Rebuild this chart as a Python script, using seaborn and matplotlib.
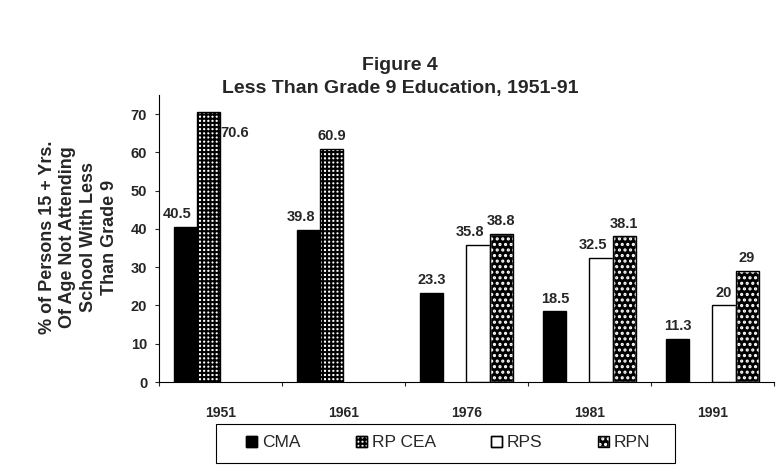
import numpy as np
import pandas as pd
import matplotlib
matplotlib.use("Agg")
import matplotlib.pyplot as plt
import seaborn as sns
from matplotlib.patches import Patch, Rectangle

years = ['1951', '1961', '1976', '1981', '1991']
cma = [40.5, 39.8, 23.3, 18.5, 11.3]
rp_cea = [70.6, 60.9, np.nan, np.nan, np.nan]
rps = [np.nan, np.nan, 35.8, 32.5, 20]
rpn = [np.nan, np.nan, 38.8, 38.1, 29]
series = ['CMA', 'RP CEA', 'RPS', 'RPN']

df = pd.DataFrame({'Year': years, 'CMA': cma, 'RP CEA': rp_cea, 'RPS': rps, 'RPN': rpn})
long = df.melt(id_vars='Year', var_name='Series', value_name='Value').dropna()

sns.set_style("white")
plt.rcParams['font.family'] = ['Liberation Sans', 'DejaVu Sans']
plt.rcParams['hatch.linewidth'] = 1.5

fig = plt.figure(figsize=(7.84, 4.69), dpi=100)
ax = fig.add_axes([0.2028, 0.1855, 0.7844, 0.612])

sns.barplot(data=long, x='Year', y='Value', hue='Series', order=years,
            hue_order=series, width=0.75, ax=ax, edgecolor='black',
            linewidth=1, saturation=1, legend=False)

# fill / hatch / hatch colour per series
styles = {
    'CMA': dict(facecolor='black', hatch=None, edgecolor='black'),
    'RP CEA': dict(facecolor='white', hatch='++++', edgecolor='black'),
    'RPS': dict(facecolor='white', hatch=None, edgecolor='black'),
    'RPN': dict(facecolor='black', hatch='...', edgecolor='white'),
}
for name, cont in zip(series, ax.containers):
    for bar in cont:
        bar.set_facecolor(styles[name]['facecolor'])
        bar.set_hatch(styles[name]['hatch'])
        bar.set_edgecolor(styles[name]['edgecolor'])
        if styles[name]['edgecolor'] != 'black':
            # white dots need a black outline drawn on top
            ax.add_patch(Rectangle(bar.get_xy(), bar.get_width(), bar.get_height(),
                                   fill=False, edgecolor='black', linewidth=1))

ymax = 75
ax.set_ylim(0, ymax)
ax.set_xlim(-0.5, 4.5)

# value labels
all_bars = [(name, bar) for name, cont in zip(series, ax.containers) for bar in cont]
for name, bar in all_bars:
    h = bar.get_height()
    if np.isnan(h) or h == 0:
        continue
    txt = f"{h:g}"
    cx = bar.get_x() + bar.get_width() / 2
    if h > ymax - 6:
        # no room above: put beside the bar
        ax.annotate(txt, (bar.get_x() + bar.get_width(), h), xytext=(0, -15),
                    textcoords='offset points', ha='left', va='center',
                    fontsize=10.5, fontweight='bold')
        continue
    # shift left when the neighbouring bar on the right is taller
    right_x = bar.get_x() + bar.get_width()
    taller = any(abs(b.get_x() - right_x) < 0.01 and b.get_height() > h
                 for _, b in all_bars)
    dx = -6 if (taller and len(txt) > 2) else 0
    ax.annotate(txt, (cx, h), xytext=(dx, 4), textcoords='offset points',
                ha='center', va='bottom', fontsize=10.5, fontweight='bold')

ax.set_yticks(range(0, 71, 10))
ax.set_xlabel('')
ax.set_ylabel('')
for s in ['top', 'right']:
    ax.spines[s].set_visible(False)
for s in ['left', 'bottom']:
    ax.spines[s].set_color('black')
    ax.spines[s].set_linewidth(0.8)
ax.tick_params(axis='y', left=True, length=3, width=0.8, labelsize=10.5, pad=5.5)
ax.tick_params(axis='x', bottom=False, labelsize=10, pad=14)
ax.set_xticks(np.arange(-0.5, 4.6, 1), minor=True)
ax.tick_params(axis='x', which='minor', bottom=True, length=3, width=0.8)
for lab in ax.get_xticklabels() + ax.get_yticklabels():
    lab.set_fontweight('bold')

fig.text(0.51, 0.861, 'Figure 4', ha='center', va='center', fontsize=14, fontweight='bold')
fig.text(0.51, 0.812, 'Less Than Grade 9 Education, 1951-91', ha='center', va='center',
         fontsize=14, fontweight='bold')
fig.text(0.1, 0.4947, '% of Persons 15 + Yrs.\nOf Age Not Attending\nSchool With Less\nThan Grade 9',
         rotation=90, ha='center', va='center', multialignment='center',
         fontsize=13, fontweight='bold', linespacing=1.3)

handles = []
for n in series:
    st = styles[n]
    fill = Patch(facecolor=st['facecolor'], hatch=st['hatch'], edgecolor=st['edgecolor'])
    outline = Patch(facecolor='none', edgecolor='black')
    handles.append((fill, outline))
leg = fig.legend(handles=handles, labels=series, loc='center',
                 bbox_to_anchor=(0.572, 0.0555), ncol=4,
                 frameon=False, fontsize=12.5, handlelength=0.6, handleheight=0.6,
                 handletextpad=0.3, columnspacing=3.2, borderpad=0)
fig.patches.append(Rectangle((216 / 784, 1 - 463 / 469), (675 - 216) / 784, 39 / 469,
                             transform=fig.transFigure, fill=False,
                             edgecolor='black', linewidth=0.8))

fig.savefig('out.png', dpi=100)
